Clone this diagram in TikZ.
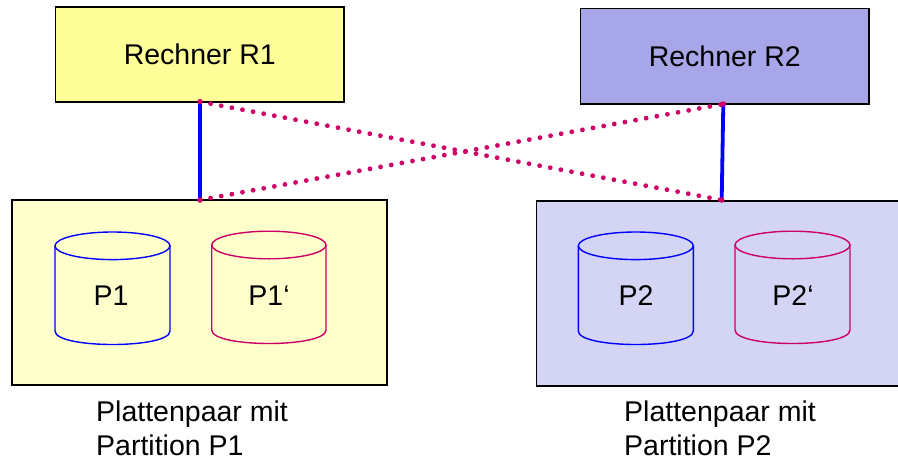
\documentclass[tikz,border=0pt]{standalone}
\usepackage{fontspec}
\setmainfont{Liberation Sans}
\definecolor{rOne}{RGB}{255,255,153}
\definecolor{rTwo}{RGB}{166,166,232}
\definecolor{pOne}{RGB}{255,255,204}
\definecolor{pTwo}{RGB}{212,212,244}
\definecolor{mag}{RGB}{204,0,102}
\definecolor{lblue}{RGB}{0,0,255}
\begin{document}
\begin{tikzpicture}[x=1pt,y=-1pt,
  every node/.style={font=\fontsize{28.5}{33.3}\selectfont},
  box/.style={draw=black,line width=1.6pt,inner sep=0pt},
  solidlink/.style={draw=lblue,line width=3.8pt},
  dotlink/.style={draw=mag,line width=4.8pt,line cap=round,dash pattern=on 0pt off 10.8pt},
  enddot/.style={fill=mag,circle,inner sep=0pt,minimum size=5.5pt},
  lbl/.style={anchor=base west,inner sep=0pt}]
\useasboundingbox (0,0) rectangle (898,461);
% computers
\node[box,fill=rOne,minimum width=288.5pt,minimum height=95pt] (r1) at (199.8,54.2) {Rechner R1};
\node[box,fill=rTwo,minimum width=288.5pt,minimum height=95.7pt] (r2) at (724.8,56.2) {Rechner R2};
% disk pair boxes
\node[box,fill=pOne,minimum width=375.3pt,minimum height=185pt] (d1) at (199.6,292.5) {};
\node[box,fill=pTwo,minimum width=380pt,minimum height=185pt,anchor=north west] (d2) at (535.7,200) {};
% connection points
\coordinate (a1) at (200,101.7);
\coordinate (b1) at (200,200);
\coordinate (a2) at (723.3,104);
\coordinate (b2) at (721.7,200);
% cylinders
\newcommand{\cyl}[5]{%
  \draw[#5,line width=1.4pt]
    ({(#1+#2)/2},#3) ellipse [x radius={(#2-#1)/2},y radius=13.8];
  \draw[#5,line width=1.4pt] (#1,#3) -- (#1,#4)
    .. controls (#1,{#4+18}) and (#2,{#4+18}) .. (#2,#4) -- (#2,#3);
}
\cyl{55}{170}{245.8}{331}{lblue}
\cyl{211.7}{326}{245}{330}{mag}
\cyl{578.3}{693.3}{245.8}{331}{lblue}
\cyl{735}{850}{245}{330}{mag}
\node (p1) at (111,296) {P1};
\node (p1b) at (269,296) {P1‘};
\node (p2) at (636,296) {P2};
\node (p2b) at (793,296) {P2‘};
% links
\draw[solidlink] (a1) -- (b1);
\draw[solidlink] (a2) -- (b2);
\draw[dotlink] (a1) -- (b2);
\draw[dotlink] (b1) -- (a2);
\foreach \c in {a1,b1,a2,b2} \node[enddot] at (\c) {};
% captions
\node[lbl] (c1) at (96,421.7) {\begin{tabular}[t]{@{}l@{}}Plattenpaar mit\\Partition P1\end{tabular}};
\node[lbl] (c2) at (624,421.7) {\begin{tabular}[t]{@{}l@{}}Plattenpaar mit\\Partition P2\end{tabular}};
\end{tikzpicture}
\end{document}
